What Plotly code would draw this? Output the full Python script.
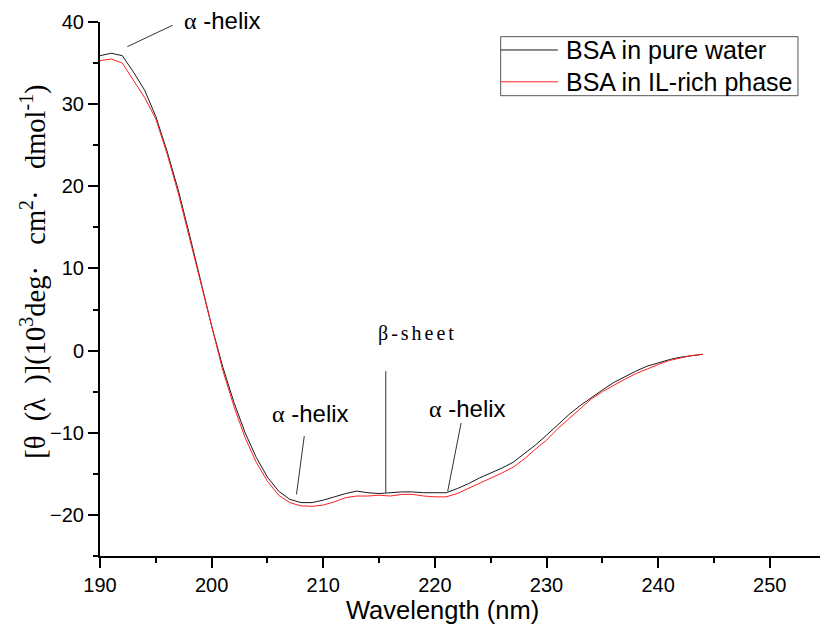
import plotly.graph_objects as go

# CD spectra of BSA, wavelength in nm
wavelength = list(range(190, 245))

water = [
    35.9, 36.2, 35.9, 33.9, 31.7, 28.5, 24.3, 19.6, 14.2, 8.5,
    3.0, -2.0, -6.3, -10.0, -13.0, -15.4, -17.1, -18.1, -18.5, -18.5,
    -18.2, -17.8, -17.4, -17.1, -17.3, -17.4, -17.3, -17.2, -17.2, -17.3,
    -17.3, -17.3, -16.8, -16.2, -15.5, -14.9, -14.3, -13.6, -12.6, -11.5,
    -10.3, -9.0, -7.8, -6.7, -5.7, -4.8, -3.9, -3.2, -2.5, -1.9,
    -1.5, -1.1, -0.8, -0.6, -0.45,
]

il_rich = [
    35.3, 35.5, 35.0, 32.9, 30.8, 28.2, 24.0, 19.2, 13.8, 8.2,
    2.7, -2.4, -6.8, -10.6, -13.6, -15.9, -17.6, -18.5, -18.9, -18.95,
    -18.8, -18.4, -17.9, -17.7, -17.7, -17.6, -17.7, -17.5, -17.5, -17.7,
    -17.8, -17.8, -17.4, -16.8, -16.2, -15.5, -14.9, -14.2, -13.2, -12.0,
    -10.9, -9.5, -8.3, -7.1, -5.9, -5.0, -4.2, -3.5, -2.8, -2.2,
    -1.7, -1.2, -0.9, -0.6, -0.45,
]

series_names = ["BSA in pure water", "BSA in IL-rich phase"]
series_colors = ["#1a1a1a", "#ff2020"]

x_ticks = [190, 200, 210, 220, 230, 240, 250]
y_ticks = [-20, -10, 0, 10, 20, 30, 40]

# structural feature labels: text position, pixel nudge and pointer line (data coords)
feature_labels = [
    {"text": "α", "rest": " -helix", "x": 201.0, "y": 40.0, "yshift": 2,
     "line": [(192.45, 37.0), (196.5, 39.6)]},
    {"text": "α", "rest": " -helix", "x": 208.9, "y": -7.6, "yshift": 0,
     "line": [(208.3, -10.4), (207.6, -17.5)]},
    {"text": "α", "rest": " -helix", "x": 222.9, "y": -7.1, "yshift": 0,
     "line": [(222.35, -8.8), (221.15, -17.1)]},
]
beta_label = {"text": "β-sheet", "x": 218.4, "y": 2.1, "line": [(215.6, -2.5), (215.6, -17.3)]}

SANS = "Liberation Sans, Arial, sans-serif"
SERIF = "Liberation Serif, Times New Roman, serif"
NB = "\u00a0"

fig = go.Figure()
for name, ys, col in zip(series_names, [water, il_rich], series_colors):
    fig.add_trace(go.Scatter(
        x=wavelength, y=ys, mode="lines", name=name,
        line=dict(color=col, width=1), showlegend=False,
    ))

shapes = []
annotations = []

for lab in feature_labels:
    (x0, y0), (x1, y1) = lab["line"]
    shapes.append(dict(type="line", xref="x", yref="y", x0=x0, y0=y0, x1=x1, y1=y1,
                       line=dict(color="#333333", width=1)))
    annotations.append(dict(
        x=lab["x"], y=lab["y"], xref="x", yref="y", showarrow=False,
        xanchor="center", yanchor="middle", yshift=lab["yshift"],
        text=f'<span style="font-family:{SERIF}">{lab["text"]}</span>{lab["rest"]}',
        font=dict(family=SANS, size=24, color="black"),
    ))

(bx0, by0), (bx1, by1) = beta_label["line"]
shapes.append(dict(type="line", xref="x", yref="y", x0=bx0, y0=by0, x1=bx1, y1=by1,
                   line=dict(color="#333333", width=1)))
annotations.append(dict(
    x=beta_label["x"], y=beta_label["y"], xref="x", yref="y", showarrow=False,
    xanchor="center", yanchor="middle",
    text=f'<span style="letter-spacing:3px">{beta_label["text"]}</span>',
    font=dict(family=SERIF, size=20, color="black"),
))

# legend box drawn in paper coordinates
shapes.append(dict(type="rect", xref="paper", yref="paper", x0=0.5565, x1=0.9694,
                   y0=0.862, y1=0.9725, line=dict(color="#555555", width=1)))
for name, col, yp in zip(series_names, series_colors, [0.9476, 0.888]):
    shapes.append(dict(type="line", xref="paper", yref="paper", x0=0.5565, x1=0.636,
                       y0=yp, y1=yp, line=dict(color=col, width=1)))
    annotations.append(dict(
        x=0.645, y=yp, xref="paper", yref="paper", xanchor="left", yanchor="middle",
        showarrow=False, text=name, font=dict(family=SANS, size=25, color="black"),
    ))

# axis titles
annotations.append(dict(
    x=0.476, y=-0.101, xref="paper", yref="paper", showarrow=False,
    xanchor="center", yanchor="middle",
    text="Wavelength (nm)", font=dict(family=SANS, size=25.5, color="black"),
))
annotations.append(dict(
    x=-0.092, y=0.532, xref="paper", yref="paper", showarrow=False, textangle=-90,
    xanchor="center", yanchor="middle",
    text=(f"[θ{NB*2}(λ{NB*2})](10<sup>3</sup>deg·{NB*3}cm<sup>2</sup>·{NB*3}"
          f"dmol<sup>-1</sup>)"),
    font=dict(family=SERIF, size=28.5, color="black"),
))

axis_common = dict(
    showline=True, linecolor="black", linewidth=2, mirror=False,
    showgrid=False, zeroline=False,
    ticks="outside", ticklen=10, tickwidth=1.5, tickcolor="black",
    tickfont=dict(family=SANS, size=20, color="black"),
)

fig.update_layout(
    width=822, height=633,
    margin=dict(l=100, r=2, t=22, b=77),
    paper_bgcolor="white", plot_bgcolor="white",
    xaxis=dict(range=[190, 254.5], tickvals=x_ticks,
               minor=dict(dtick=5, tick0=190, ticks="outside", ticklen=5, tickcolor="black", tickwidth=1.5),
               **axis_common),
    yaxis=dict(range=[-25, 40], tickvals=y_ticks,
               minor=dict(dtick=5, tick0=-25, ticks="outside", ticklen=5, tickcolor="black", tickwidth=1.5),
               **axis_common),
    shapes=shapes,
    annotations=annotations,
    showlegend=False,
)

fig.write_html("out.html")
